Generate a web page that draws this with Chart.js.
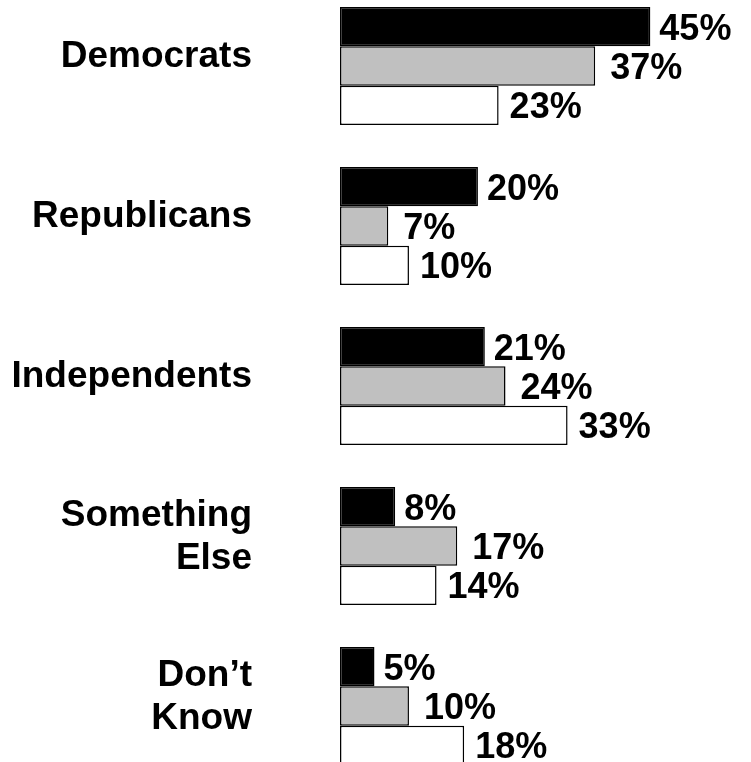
<!DOCTYPE html>
<html>
<head>
<meta charset="utf-8">
<script src="https://cdn.jsdelivr.net/npm/chart.js@4/dist/chart.umd.min.js"></script>
<style>
  html, body { margin: 0; padding: 0; background: #fff; overflow: hidden; width: 751px; height: 762px; }
  #wrap { position: absolute; left: 0; top: -20px; width: 751px; height: 812px; }
</style>
</head>
<body>
<div id="wrap"><canvas id="chart" width="751" height="812"></canvas></div>
<script>
// categories (multi-line labels are arrays)
const categories = ['Democrats', 'Republicans', 'Independents', ['Something', 'Else'], ['Don\u2019t', 'Know']];

// three series: black, gray, white bars
const blackValues = [45, 20, 21, 8, 5];
const grayValues  = [37, 7, 24, 17, 10];
const whiteValues = [23, 10, 33, 14, 18];

const labelFont = 'bold 36px "Liberation Sans", Arial, sans-serif';

// draws "NN%" to the right of each bar
const valueLabels = {
  id: 'valueLabels',
  afterDatasetsDraw(chart) {
    const ctx = chart.ctx;
    const gaps = [9, 15, 11]; // space between bar end and label, per series
    ctx.save();
    ctx.font = labelFont;
    ctx.fillStyle = '#000';
    ctx.textAlign = 'left';
    ctx.textBaseline = 'middle';
    chart.data.datasets.forEach((ds, i) => {
      chart.getDatasetMeta(i).data.forEach((bar, j) => {
        ctx.fillText(ds.data[j] + '%', bar.x + gaps[i], bar.y + 3);
      });
    });
    ctx.restore();
  }
};

const ctx = document.getElementById('chart').getContext('2d');
const chart = new Chart(ctx, {
  type: 'bar',
  data: {
    labels: categories,
    datasets: [
      { label: 'Series 1', data: blackValues, backgroundColor: '#000000', borderColor: '#000000', borderWidth: 1.5, borderSkipped: false },
      { label: 'Series 2', data: grayValues,  backgroundColor: '#c0c0c0', borderColor: '#000000', borderWidth: 1.5, borderSkipped: false },
      { label: 'Series 3', data: whiteValues, backgroundColor: '#ffffff', borderColor: '#000000', borderWidth: 1.5, borderSkipped: false }
    ]
  },
  options: {
    indexAxis: 'y',
    responsive: false,
    animation: false,
    devicePixelRatio: 1,
    categoryPercentage: 0.7375,
    barPercentage: 1,
    layout: { padding: { top: 6, bottom: 6, left: 0, right: 11 } },
    plugins: { legend: { display: false }, tooltip: { enabled: false } },
    scales: {
      x: { display: false, min: 0, max: 58 },
      y: {
        grid: { display: false, drawTicks: false },
        border: { display: false },
        ticks: {
          color: '#000',
          font: { family: '"Liberation Sans", Arial, sans-serif', size: 37, weight: 'bold', lineHeight: 1.17 },
          padding: 88,
          labelOffset: -9
        },
        afterFit(scale) {
          scale.width = 340;       // fix left edge of bars
          scale.paddingTop = 0;    // tick padding should not shrink the plot vertically
          scale.paddingBottom = 0;
        }
      }
    }
  },
  plugins: [valueLabels]
});
</script>
</body>
</html>
